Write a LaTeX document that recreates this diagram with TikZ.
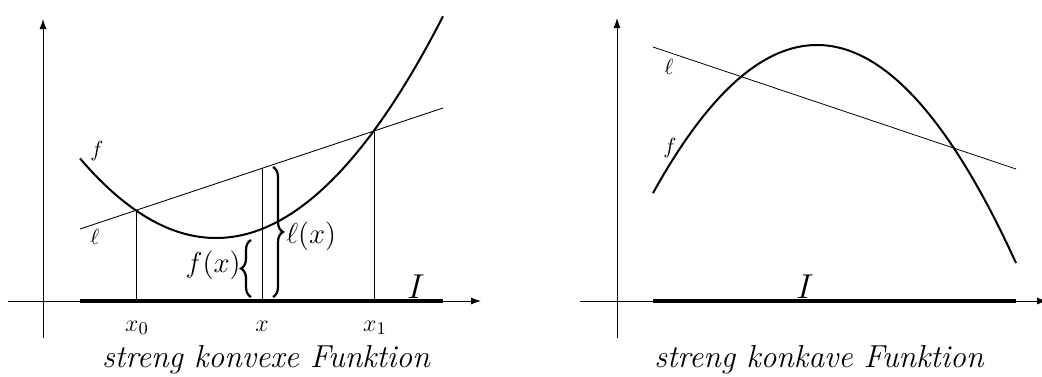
\documentclass[tikz,border=0pt]{standalone}
\usetikzlibrary{decorations.pathreplacing,arrows.meta}
\begin{document}
\begin{tikzpicture}[x=0.5pt,y=0.5pt,
  axis/.style={line width=0.5pt,-{Latex[length=5pt,width=3.5pt]}},
  curve/.style={line width=1pt},
  chord/.style={line width=0.4pt},
  guide/.style={line width=0.4pt},
  interval/.style={line width=1.8pt},
  brc/.style={decorate,decoration={brace,amplitude=5pt},line width=1.1pt},
  lbl/.style={inner sep=1pt,font=\fontsize{10.5}{12}\selectfont},
  ticklbl/.style={inner sep=1pt,font=\fontsize{12.5}{14}\selectfont},
  blbl/.style={inner sep=1pt,font=\fontsize{13.5}{15}\selectfont},
  ilbl/.style={inner sep=0pt,font=\fontsize{17}{19}\selectfont},
  captxt/.style={inner sep=0pt,font=\fontsize{15.9}{18}\selectfont\itshape}]
\useasboundingbox (0,0) rectangle (1042,376);
% ---------- left panel ----------
\coordinate (lyb) at (43,38);
\coordinate (lyt) at (43,357);
\coordinate (lxl) at (8,75);
\coordinate (lxr) at (481,75);
\draw[axis] (lyb) -- (lyt);
\draw[axis] (lxl) -- (lxr);
\coordinate (lia) at (80,75);
\coordinate (lib) at (443,75);
\draw[interval] (lia) -- (lib);
\draw[curve] plot[domain=80:443,samples=80,smooth] (\x,{138+(0.0656*(\x-216))^2});
\coordinate (lla) at (80,147);
\coordinate (llb) at (443,268);
\draw[chord] (lla) -- (llb);
\coordinate (x0b) at (136,75);
\coordinate (x0t) at (136,165.7);
\coordinate (xb) at (262,75);
\coordinate (xt) at (262,207.7);
\coordinate (x1b) at (374,75);
\coordinate (x1t) at (374,245);
\draw[guide] (x0b) -- (x0t);
\draw[guide] (xb) -- (xt);
\draw[guide] (x1b) -- (x1t);
\node[ticklbl] (tx0) at (137,48) {$x_0$};
\node[ticklbl] (tx) at (262,50) {$x$};
\node[ticklbl] (tx1) at (375,48) {$x_1$};
\coordinate (fbb) at (251,79);
\coordinate (fbt) at (251,136);
\draw[brc] (fbb) -- (fbt);
\node[blbl,anchor=east] (fxl) at (243,111) {$f(x)$};
\coordinate (lbt) at (273,209);
\coordinate (lbb) at (273,79);
\draw[brc] (lbt) -- (lbb);
\node[blbl,anchor=west] (lxlab) at (284,140) {$\ell(x)$};
\node[lbl] (lf) at (97,225) {$f$};
\node[lbl] (ll) at (95,139) {$\ell$};
\node[ilbl] (li) at (416,89) {$I$};
\node[captxt] (lcap) at (266,16) {streng konvexe Funktion};
% ---------- right panel ----------
\coordinate (ryb) at (617,38);
\coordinate (ryt) at (617,358);
\coordinate (rxl) at (580,75);
\coordinate (rxr) at (1047,75);
\draw[axis] (ryb) -- (ryt);
\draw[axis] (rxl) -- (rxr);
\coordinate (ria) at (653,75);
\coordinate (rib) at (1016,75);
\draw[interval] (ria) -- (rib);
\draw[curve] plot[domain=653:1016,samples=80,smooth] (\x,{331-(0.0742*(\x-817))^2});
\coordinate (rla) at (653,329);
\coordinate (rlb) at (1016,207);
\draw[chord] (rla) -- (rlb);
\node[lbl] (rl) at (669,309) {$\ell$};
\node[lbl] (rf) at (670,228) {$f$};
\node[ilbl] (ri) at (805,89) {$I$};
\node[captxt] (rcap) at (819,16) {streng konkave Funktion};
\end{tikzpicture}
\end{document}
